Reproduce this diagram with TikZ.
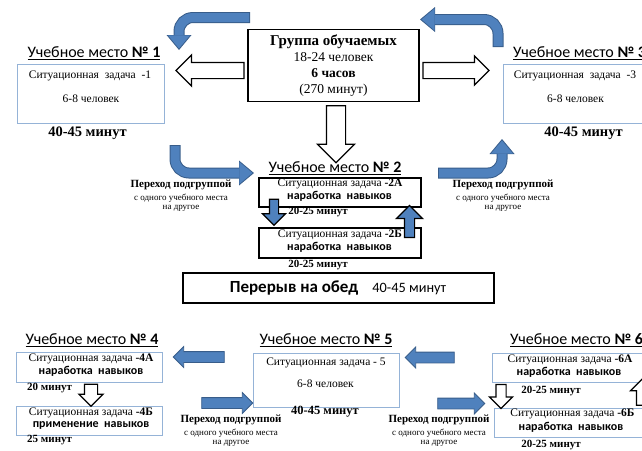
\documentclass[tikz,border=0pt]{standalone}
\usepackage{fontspec}
\setmainfont{Liberation Serif}
\newfontfamily\calfont{Carlito}
\usetikzlibrary{positioning,shapes.arrows,arrows.meta}

\definecolor{boxblue}{HTML}{95B3D7}
\definecolor{arrblue}{HTML}{4F81BD}
\definecolor{arrdark}{HTML}{385D8A}

\newcommand{\mestoname}[1]{\underline{Учебное\ место \textbf{№ #1}}}

\begin{document}
\begin{tikzpicture}
  [x=1pt,y=-1pt,every node/.style={inner sep=0pt},
   mesto/.style={font=\calfont\fontsize{16}{18}\selectfont},
   pbox/.style={draw=boxblue, line width=0.8pt},
   kbox/.style={draw=black, line width=1.4pt},
   zad/.style={font=\fontsize{11.5}{13}\selectfont},
   zads/.style={font=\fontsize{11.5}{12}\selectfont},
   nav/.style={font=\calfont\bfseries\fontsize{12}{13}\selectfont},
   mins/.style={font=\bfseries\fontsize{#1}{#1}\selectfont}, mins/.default=14.5,
   perb/.style={font=\bfseries\fontsize{11}{12}\selectfont},
   pers/.style={font=\fontsize{9}{10}\selectfont},
   hollow/.style 2 args={single arrow, draw=black, fill=white, line width=1.2pt, inner xsep=0pt, inner ysep=#1, single arrow head extend=#2},
   barrow/.style 2 args={single arrow, draw=arrdark, fill=arrblue, line width=0.8pt, inner xsep=0pt, inner ysep=#1, single arrow head extend=#2},
   karrow/.style 2 args={single arrow, draw=black, fill=arrblue, line width=1.2pt, inner xsep=0pt, inner ysep=#1, single arrow head extend=#2},
   flowback/.style={draw=arrdark, line width=11pt, rounded corners=14pt, -{Triangle[width=25pt,length=15pt,line width=0pt]}},
   flowfront/.style={draw=arrblue, line width=9pt, rounded corners=14pt, shorten >=1.6pt, shorten <=1pt, -{Triangle[width=22pt,length=13pt,line width=0pt]}}]
  \useasboundingbox (0,0) rectangle (642,450);

  % group and first row
  \node[kbox, minimum width=171pt, minimum height=72pt, align=center, font=\fontsize{13.5}{16}\selectfont] (grp) at (333.5,65.5)
    {\textbf{\fontsize{15}{17}\selectfont Группа обучаемых}\\18-24 человек\\\textbf{6 часов}\\(270 минут)};

  \node[mesto] (l1) at (94,53) {\mestoname{1}};
  \node[pbox, minimum width=147pt, minimum height=59pt] (m1) at (90.5,93.5) {};
  \node[zad] (m1a) at (90,76) {Ситуационная\ \ задача\ \ -1};
  \node[zad] (m1b) at (91,99) {6-8 человек};
  \node[mins] (t1) at (87.5,133) {40-45 минут};

  \node[mesto, anchor=west] (l3) at (513,53) {\mestoname{3}};
  \node[pbox, minimum width=157pt, minimum height=59pt] (m3) at (581.5,93.5) {};
  \node[zad] (m3a) at (575,76) {Ситуационная\ \ задача\ \ -3};
  \node[zad] (m3b) at (575.5,99) {6-8 человек};
  \node[mins] (t3) at (583.5,133) {40-45 минут};

  \node[hollow={7.5pt}{7.5pt}, minimum height=68pt, rotate=180] (h1) at (214,70.5) {};
  \node[hollow={7.5pt}{6.5pt}, minimum height=66pt] (h2) at (452,70.5) {};
  \node[hollow={9pt}{9pt}, minimum height=57pt, rotate=-90] (h3) at (336,129.5) {};

  % place 2
  \node[mesto] (l2) at (335,168) {\mestoname{2}};
  \node[kbox, minimum width=162pt, minimum height=29pt] (m2a) at (340,192.5) {};
  \node[zads] (m2a1) at (340,184) {Ситуационная задача \textbf{-2А}};
  \node[nav] (m2a2) at (339.5,196) {наработка\ \ навыков};
  \node[mins=11] (t2a) at (318,212.5) {20-25 минут};
  \node[kbox, minimum width=162pt, minimum height=30pt] (m2b) at (340,243) {};
  \node[zads] (m2b1) at (340,235) {Ситуационная задача \textbf{-2Б}};
  \node[nav] (m2b2) at (339.5,247) {наработка\ \ навыков};
  \node[mins=11] (t2b) at (318,265) {20-25 минут};
  \node[karrow={4pt}{7pt}, minimum height=26pt, rotate=-90] (k1) at (274,210) {};
  \node[karrow={4.5pt}{8pt}, minimum height=32pt, rotate=90] (k2) at (409.5,224) {};

  \node[kbox, minimum width=311pt, minimum height=30pt] (obed) at (338.5,288) {};
  \node[font=\calfont\fontsize{14.3}{16}\selectfont] (obedt) at (338,288)
    {\textbf{\fontsize{17}{19}\selectfont Перерыв на обед}\quad 40-45 минут};

  % second row
  \node[mesto] (l4) at (92,340) {\mestoname{4}};
  \node[pbox, minimum width=146pt, minimum height=30pt] (m4a) at (89,367) {};
  \node[zads] (m4a1) at (91,359) {Ситуационная задача \textbf{-4А}};
  \node[nav] (m4a2) at (91,371) {наработка\ \ навыков};
  \node[mins=11, anchor=west] (t4a) at (27,388) {20 минут};
  \node[pbox, minimum width=146pt, minimum height=29pt] (m4b) at (89,420.5) {};
  \node[zads] (m4b1) at (91,413) {Ситуационная задача \textbf{-4Б}};
  \node[nav] (m4b2) at (91,425) {применение\ \ навыков};
  \node[mins=11, anchor=west] (t4b) at (27,440) {25 минут};
  \node[hollow={6pt}{5.5pt}, minimum height=22pt, rotate=-90] (h4) at (91,392) {};

  \node[mesto] (l5) at (326,340) {\mestoname{5}};
  \node[pbox, minimum width=146pt, minimum height=54pt] (m5) at (326,380) {};
  \node[zads] (m5a) at (326,363) {Ситуационная задача - 5};
  \node[zads] (m5b) at (325.5,384) {6-8 человек};
  \node[mins=12.5] (t5) at (325,412) {40-45 минут};

  \node[mesto, anchor=west] (l6) at (510,340) {\mestoname{6}};
  \node[pbox, minimum width=168pt, minimum height=29pt] (m6a) at (576,367.5) {};
  \node[zads] (m6a1) at (570,360) {Ситуационная задача \textbf{-6А}};
  \node[nav] (m6a2) at (569,372) {наработка\ \ навыков};
  \node[mins=11] (t6a) at (551,391) {20-25 минут};
  \node[pbox, minimum width=166pt, minimum height=29pt] (m6b) at (577,422.5) {};
  \node[zads] (m6b1) at (572.5,414) {Ситуационная задача \textbf{-6Б}};
  \node[nav] (m6b2) at (571,427) {наработка\ \ навыков};
  \node[mins=11] (t6b) at (551,445) {20-25 минут};
  \node[hollow={4.5pt}{6.5pt}, minimum height=24pt, rotate=-90] (h6) at (501,394) {};
  \node[hollow={5pt}{6pt}, minimum height=26pt, rotate=90] (h7) at (642,395) {};

  \foreach \nm/\x/\y/\len/\rot in {b1/201.5/357/51/180, b2/224.5/403/51/0, b3/432.5/357.5/49/180, b4/458.5/403.5/47/0}
    \node[barrow={5pt}{5pt}, minimum height=\len pt, rotate=\rot] (\nm) at (\x,\y) {};

  % moving between places
  \foreach \x/\y [count=\i] in {181/185, 503/185, 231/420, 439/420}{
    \node[perb] (pa\i) at (\x,\y) {Переход подгруппой};
    \node[pers, below=3.5pt of pa\i] (pb\i) {с одного учебного места};
    \node[pers, below=3pt of pb\i] (pc\i) {на другое};
  }

  \coordinate (f1s) at (250,17.5);  \coordinate (f1t) at (179,50);
  \coordinate (f2s) at (498,47);    \coordinate (f2t) at (420,19.5);
  \coordinate (f3s) at (175,145);   \coordinate (f3t) at (254,173);
  \coordinate (f4s) at (438,173);   \coordinate (f4t) at (502,139);
  \draw[flowback] (f1s) -| (f1t);
  \draw[flowfront] (f1s) -| (f1t);
  \draw[flowback] (f2s) |- (f2t);
  \draw[flowfront] (f2s) |- (f2t);
  \draw[flowback] (f3s) |- (f3t);
  \draw[flowfront] (f3s) |- (f3t);
  \draw[flowback] (f4s) -| (f4t);
  \draw[flowfront] (f4s) -| (f4t);
\end{tikzpicture}
\end{document}
